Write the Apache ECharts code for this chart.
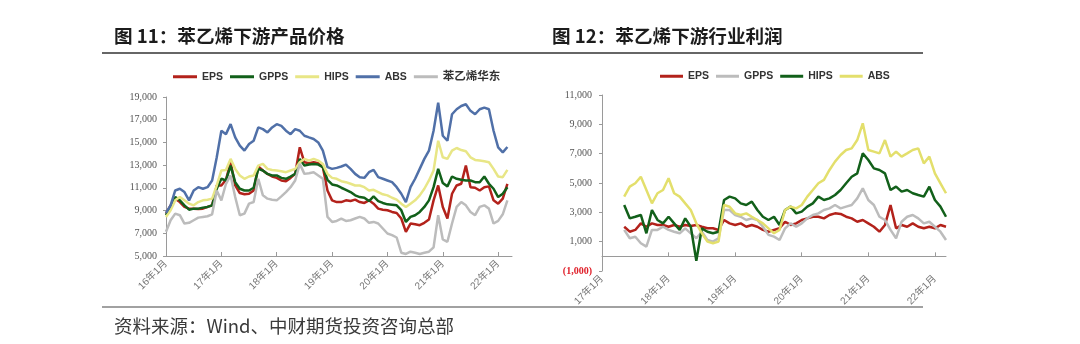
<!DOCTYPE html>
<html>
<head>
<meta charset="utf-8">
<script src="https://cdn.jsdelivr.net/npm/echarts@6/dist/echarts.min.js"></script>
<style>
  html, body { margin: 0; padding: 0; background: #fff; }
  #chart { width: 1080px; height: 344px; }
</style>
</head>
<body>
<div id="chart"></div>
<script>
// ---- Figure 11: downstream product prices, monthly, 2016-01 .. 2022-03 ----
const priceEPS  = [8730,9460,10050,9750,9320,9170,9170,9140,9170,9320,9460,11210,11210,11710,13250,11210,10540,10430,10480,10770,12880,12530,12230,12000,11880,11650,11590,11880,12230,14570,13250,13170,13250,13170,12820,10770,9900,9750,9750,9900,9840,9960,9750,9670,9900,9610,9170,9080,9030,8880,8790,8300,7130,7860,7800,7710,7920,8210,9900,11210,9320,8300,10480,11210,11360,12960,11060,11010,10770,11060,11130,9900,9610,10050,11360];
const priceGPPS = [8590,9320,10190,9900,9460,9080,9170,9170,9260,9320,9460,10920,11800,11650,12960,11500,10920,10770,10770,11010,12670,12530,12230,12090,12090,11880,11800,12000,12230,13550,12960,13050,13110,13050,12820,11710,11300,11210,11010,10830,10630,10340,10190,10130,9840,10250,9840,9670,9550,9520,9460,9030,8000,8440,8590,8880,9320,9900,11060,12670,11420,11130,12000,11800,11710,11650,11650,11500,11500,12000,11360,10920,10190,10480,11060];
const priceHIPS = [8440,9030,9900,10190,9900,9610,9460,9750,9900,9960,10050,11210,12530,12580,13550,12670,12090,11800,12000,12090,12960,13110,12670,12580,12530,12470,12380,12530,12670,13250,13550,13400,13550,13400,13110,12230,11880,11800,11590,11500,11360,11210,11210,11060,10770,10830,10630,10430,10340,10130,9960,9610,9320,9610,9900,10340,10920,11650,12530,15150,13690,13550,14280,14510,14330,14220,13690,13460,13400,13340,13250,12670,12000,11940,12580];
const priceABS  = [8800,9460,10770,10920,10630,9900,10770,11060,10920,11060,11650,13690,16030,15730,16610,15440,14710,14280,14860,15150,16320,16170,15880,16320,16610,16460,16030,15730,16170,16030,15590,15440,15300,15000,14280,12820,12670,12760,12880,13050,12670,12230,11940,11880,12380,12580,11940,11800,11650,11500,11060,10480,9750,11060,11800,12670,13550,14280,16030,18500,15590,15150,17480,17920,18210,18360,17780,17480,17920,18070,17920,16030,14570,14130,14600];
const priceSM   = [7130,8150,8730,8590,7860,7920,8150,8380,8440,8500,8670,10770,9900,11360,12090,10190,8590,8730,9610,9750,11800,10340,10050,9960,9900,10250,10630,11060,11650,13110,12230,12290,12380,12090,11800,8440,8000,8090,8300,8090,8150,8300,8440,8300,7920,8000,7860,7420,6980,6840,6630,5290,5180,5380,5290,5180,5290,5380,5760,8590,6460,6250,7860,9320,9750,9460,8880,8590,9320,9460,9170,7860,8090,8670,9900];

// ---- Figure 12: downstream profit, monthly, 2017-05 .. 2022-03 ----
const profitEPS  = [2020,1680,1800,2250,2020,2250,2140,2140,2020,2140,2020,2140,2070,2140,2020,1910,1910,1800,2480,2250,2140,2250,2020,2140,2020,1800,1680,1800,1910,2360,2140,2250,2480,2590,2700,2700,2590,2820,2930,2890,2700,2590,2360,2480,2250,2020,1680,2140,3500,1910,2140,2020,2250,2020,1910,2020,1910,2140,2020];
const profitGPPS = [1800,1230,1340,890,660,1800,1800,2020,1800,1680,1570,1910,1570,1230,1680,1110,1000,1230,3160,3160,2820,2700,2480,2590,2480,2020,1460,1340,1110,1910,2250,2020,2250,2590,2820,2930,3160,3270,3500,3270,3390,3500,3950,4640,3840,3500,2700,2480,1800,1230,2360,2700,2820,2590,2250,2360,2020,1680,1110];
const profitHIPS = [3500,2590,2700,2820,1570,3160,2480,2250,2700,2250,1800,2590,2020,-300,1910,1680,1570,1680,3840,4070,3950,3610,3500,3730,3160,2700,2480,2700,2140,3160,3390,2930,3050,3390,3610,4070,3840,3950,4180,4520,4980,5430,5660,7020,6570,6000,5890,5660,4520,4750,4410,4520,4300,4180,4070,4750,3840,3390,2700];
const profitABS  = [4070,4750,4980,5430,4520,3610,4300,4520,5320,4300,4070,3610,3160,2250,1570,1000,890,1000,3500,3380,2930,2820,2930,2700,2480,2250,1910,1570,1800,3160,3390,3270,3500,4070,4520,4980,5210,5890,6460,6910,7250,7360,7930,9070,7250,7140,7020,7930,6800,7140,6800,7020,7250,7360,6340,6800,5660,4980,4300];

// month categories "YYYY-MM"
function buildMonths(year, month, count) {
  const out = [];
  for (let i = 0; i < count; i++) {
    const y = year + Math.floor((month - 1 + i) / 12);
    const m = ((month - 1 + i) % 12) + 1;
    out.push(y + '-' + (m < 10 ? '0' + m : m));
  }
  return out;
}
const monthsPrice  = buildMonths(2016, 1, 76);   // 2016-01 .. 2022-04
const monthsProfit = buildMonths(2017, 1, 63);   // 2017-01 .. 2022-03
const profitOffset = 4;                          // profit readings start at 2017-05

const C = {
  red: '#b3221b', green: '#12601a', yellow: '#e8e686', blue: '#5070a8', gray: '#bcbcbc',
  yellow2: '#e3df6c'
};

const isJan = (idx, val) => val.slice(5) === '01';
const monthLabel = v => v.slice(2, 4) + '年' + parseInt(v.slice(5), 10) + '月';
const thousands = v => String(Math.abs(v)).replace(/\B(?=(\d{3})+(?!\d))/g, ',');

const legendFont = {
  fontFamily: "'Liberation Sans', Arial, 'Noto Sans CJK SC', sans-serif",
  fontWeight: 'bold', fontSize: 10.5, color: '#333'
};
const yLabel = {
  fontFamily: "'Liberation Serif', 'DejaVu Serif', serif", fontSize: 10, color: '#555'
};
const xLabel = {
  fontFamily: "'Liberation Sans', 'Noto Sans CJK SC', sans-serif", fontSize: 10, color: '#777'
};
const axisGray = { color: '#9a9a9a', width: 1 };

function lineSeries(name, data, color, xi) {
  return {
    name, type: 'line', data, xAxisIndex: xi, yAxisIndex: xi,
    showSymbol: false, symbol: 'none', smooth: false,
    lineStyle: { color, width: 2.5 }, itemStyle: { color },
    emphasis: { disabled: true }
  };
}
const pad = n => new Array(n).fill(null);

const chart = echarts.init(document.getElementById('chart'), null, { renderer: 'canvas' });
chart.setOption({
  animation: false,
  backgroundColor: '#fff',
  graphic: [
    { type: 'text', x: 114, y: 36, style: { text: '图 11：苯乙烯下游产品价格', fontSize: 18.6, fontWeight: 'bold', fontFamily: "'Noto Sans CJK SC', sans-serif", fill: '#1c1c1c', verticalAlign: 'middle' } },
    { type: 'text', x: 552, y: 36, style: { text: '图 12：苯乙烯下游行业利润', fontSize: 18.6, fontWeight: 'bold', fontFamily: "'Noto Sans CJK SC', sans-serif", fill: '#1c1c1c', verticalAlign: 'middle' } },
    { type: 'line', shape: { x1: 102, y1: 53, x2: 923, y2: 53 }, style: { stroke: '#333', lineWidth: 1.5 } },
    { type: 'line', shape: { x1: 102, y1: 307, x2: 923, y2: 307 }, style: { stroke: '#444', lineWidth: 1.2 } },
    { type: 'text', x: 114, y: 326, style: { text: '资料来源：Wind、中财期货投资咨询总部', fontSize: 18.5, fontFamily: "'Noto Sans CJK SC', sans-serif", fill: '#3a3a3a', verticalAlign: 'middle' } }
  ],
  legend: [
    {
      left: 168, top: 66, itemWidth: 24, itemHeight: 3, itemGap: 7, icon: 'rect',
      selectedMode: false, textStyle: legendFont,
      data: [
        { name: 'EPS', itemStyle: { color: C.red } },
        { name: 'GPPS', itemStyle: { color: C.green } },
        { name: 'HIPS', itemStyle: { color: C.yellow } },
        { name: 'ABS', itemStyle: { color: C.blue } },
        { name: '苯乙烯华东', itemStyle: { color: C.gray }, textStyle: { fontSize: 11.5 } }
      ]
    },
    {
      left: 655, top: 66, itemWidth: 23, itemHeight: 3, itemGap: 7, icon: 'rect',
      selectedMode: false, textStyle: legendFont,
      data: [
        { name: 'EPS', itemStyle: { color: C.red } },
        { name: 'GPPS', itemStyle: { color: C.gray } },
        { name: 'HIPS', itemStyle: { color: C.green } },
        { name: 'ABS', itemStyle: { color: C.yellow2 } }
      ]
    }
  ],
  grid: [
    { left: 166, right: 568, top: 97, bottom: 88 },
    { left: 602, right: 134, top: 95, bottom: 73 }
  ],
  xAxis: [
    {
      type: 'category', gridIndex: 0, data: monthsPrice, boundaryGap: false,
      axisLine: { lineStyle: axisGray },
      axisTick: { interval: isJan, inside: true, length: 4, lineStyle: axisGray },
      axisLabel: Object.assign({ interval: isJan, rotate: 45, margin: 6, formatter: monthLabel }, xLabel),
      splitLine: { show: false }
    },
    {
      type: 'category', gridIndex: 1, data: monthsProfit, boundaryGap: false,
      axisLine: { onZero: true, lineStyle: axisGray },
      axisTick: { interval: isJan, inside: true, length: 4, lineStyle: axisGray },
      axisLabel: Object.assign({ interval: isJan, rotate: 45, margin: 6, formatter: monthLabel }, xLabel),
      splitLine: { show: false }
    }
  ],
  yAxis: [
    {
      type: 'value', gridIndex: 0, min: 5000, max: 19000, interval: 2000,
      axisLine: { show: true, lineStyle: axisGray },
      axisTick: { show: true, length: 3, lineStyle: axisGray },
      axisLabel: Object.assign({ margin: 9, formatter: v => thousands(v) }, yLabel),
      splitLine: { show: false }
    },
    {
      type: 'value', gridIndex: 1, min: -1000, max: 11000, interval: 2000,
      axisLine: { show: true, onZero: false, lineStyle: axisGray },
      axisTick: { show: true, length: 3, lineStyle: axisGray },
      axisLabel: Object.assign({
        margin: 10,
        formatter: v => v < 0 ? '{neg|(' + thousands(v) + ')}' : thousands(v),
        rich: { neg: { color: '#e0202a', fontFamily: "'Liberation Serif', serif", fontSize: 10, fontWeight: 'bold' } }
      }, yLabel),
      splitLine: { show: false }
    }
  ],
  series: [
    lineSeries('EPS', priceEPS, C.red, 0),
    lineSeries('GPPS', priceGPPS, C.green, 0),
    lineSeries('HIPS', priceHIPS, C.yellow, 0),
    lineSeries('ABS', priceABS, C.blue, 0),
    lineSeries('苯乙烯华东', priceSM, C.gray, 0),
    lineSeries('EPS', pad(profitOffset).concat(profitEPS), C.red, 1),
    lineSeries('GPPS', pad(profitOffset).concat(profitGPPS), C.gray, 1),
    lineSeries('HIPS', pad(profitOffset).concat(profitHIPS), C.green, 1),
    lineSeries('ABS', pad(profitOffset).concat(profitABS), C.yellow2, 1)
  ]
});
</script>
</body>
</html>
